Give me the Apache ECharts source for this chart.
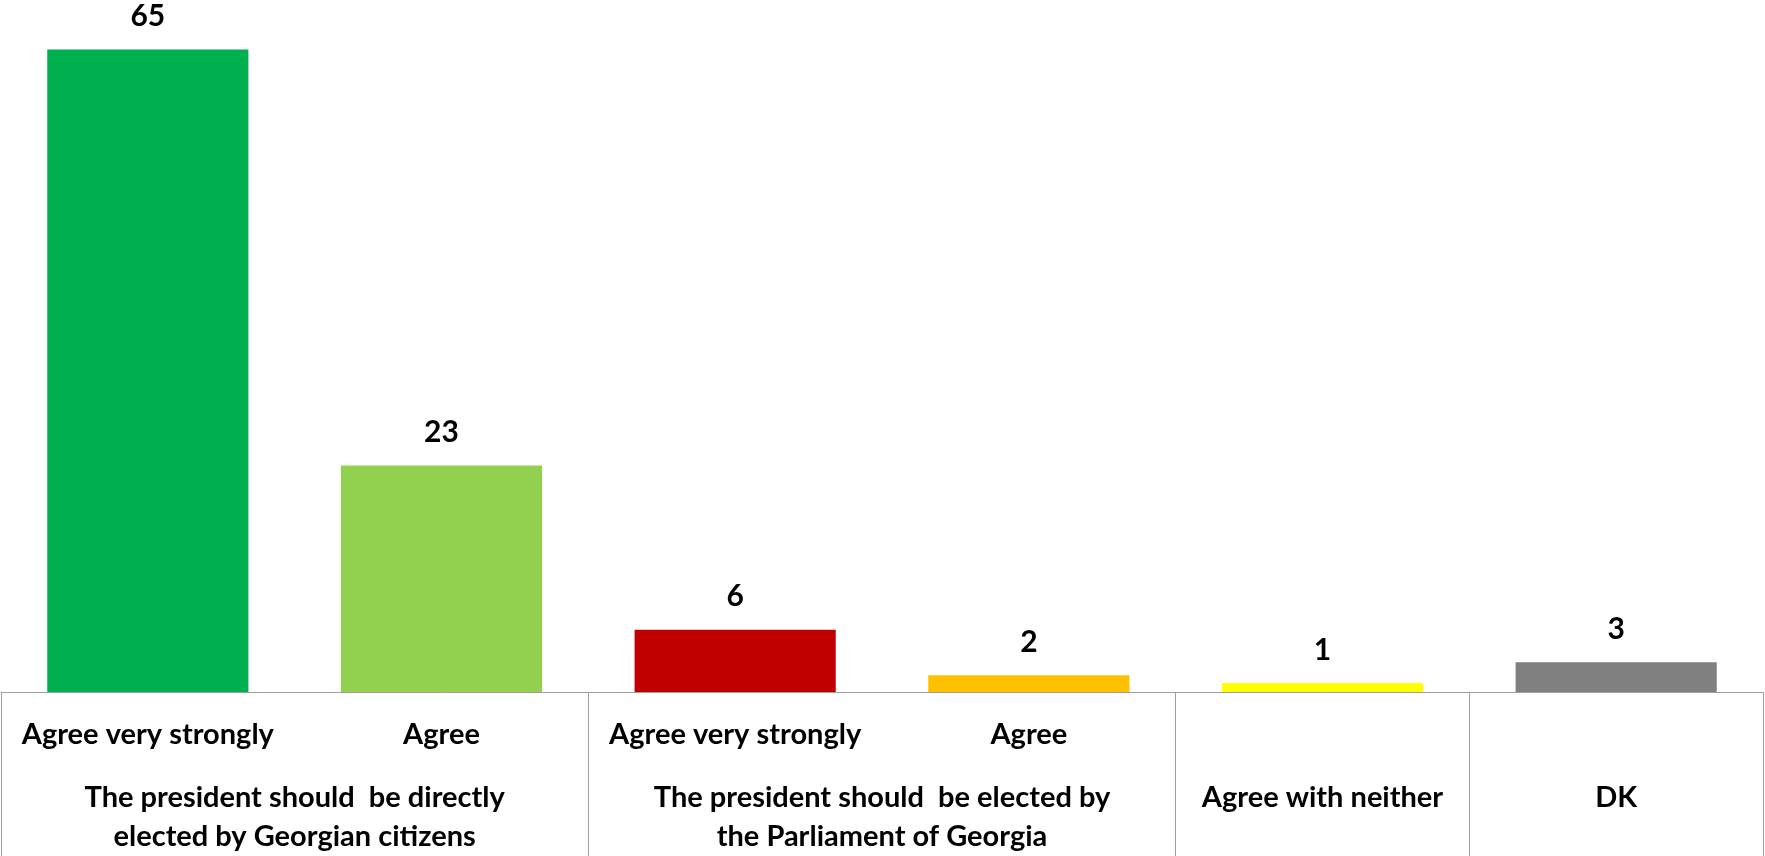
<!DOCTYPE html>
<html>
<head>
<meta charset="utf-8">
<script src="https://cdn.jsdelivr.net/npm/echarts@6/dist/echarts.min.js"></script>
<style>
html,body{margin:0;padding:0;background:#fff;}
#chart{width:1765px;height:856px;}
</style>
</head>
<body>
<div id="chart"></div>
<script>
const categories = ['Agree very strongly', 'Agree', 'Agree very strongly', 'Agree', '', ''];
const values = [65, 22.9, 6.3, 1.7, 0.9, 3.0];
const barColors = ['#00B050', '#92D050', '#C00000', '#FFC000', '#FFFF00', '#808080'];
const groupLabels = [
  'The president should  be directly\nelected by Georgian citizens',
  'The president should  be elected by\nthe Parliament of Georgia',
  'Agree with neither',
  'DK'
];
const groupSpans = [2, 2, 1, 1];

const boundaries = [0];
const centers = [];
groupSpans.forEach(function (s) {
  const start = boundaries[boundaries.length - 1];
  centers.push(start + s / 2);
  boundaries.push(start + s);
});

const FONT = 'Lato';
const lineColor = '#A0A0A0';

const chart = echarts.init(document.getElementById('chart'));
chart.setOption({
  animation: false,
  grid: { left: 1, right: 2, top: 0, bottom: 162, containLabel: false },
  xAxis: [
    {
      type: 'category',
      data: categories,
      position: 'bottom',
      axisLine: { show: true, lineStyle: { color: lineColor, width: 1 } },
      axisTick: { show: false },
      axisLabel: {
        interval: 0,
        margin: 28,
        color: '#000',
        fontFamily: FONT,
        fontWeight: 'bold',
        fontSize: 29,
        lineHeight: 30
      }
    },
    {
      type: 'value',
      min: 0,
      max: categories.length,
      position: 'bottom',
      axisLine: { show: false },
      splitLine: { show: false },
      axisTick: {
        show: true,
        customValues: boundaries,
        length: 170,
        lineStyle: { color: lineColor, width: 1 }
      },
      axisLabel: {
        show: true,
        customValues: centers,
        margin: 86,
        color: '#000',
        fontFamily: FONT,
        fontWeight: 'bold',
        fontSize: 29,
        lineHeight: 39,
        align: 'center',
        formatter: function (v) {
          const i = centers.indexOf(v);
          return i >= 0 ? groupLabels[i] : '';
        }
      }
    }
  ],
  yAxis: {
    type: 'value',
    min: 0,
    max: 70,
    show: false
  },
  series: [
    {
      type: 'bar',
      xAxisIndex: 0,
      barWidth: '68.5%',
      data: values.map(function (v, i) {
        return { value: v, itemStyle: { color: barColors[i] } };
      }),
      label: {
        show: true,
        position: 'top',
        distance: 18,
        color: '#000',
        fontFamily: FONT,
        fontWeight: 'bold',
        fontSize: 30,
        formatter: function (p) { return Math.round(p.value); }
      }
    }
  ]
});
</script>
</body>
</html>
